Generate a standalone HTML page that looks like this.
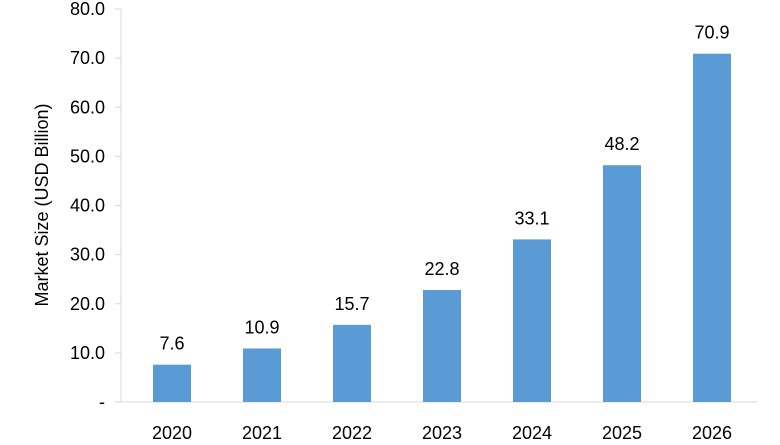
<!DOCTYPE html>
<html><head><meta charset="utf-8"><style>
body{margin:0;background:#fff;width:780px;height:440px;overflow:hidden}
text{font-family:"Liberation Sans",Arial,sans-serif;fill:#000}
</style></head><body>
<svg id="chart" width="780" height="440" xmlns="http://www.w3.org/2000/svg"></svg>
<script>
const categories=["2020","2021","2022","2023","2024","2025","2026"];
const values=[7.6,10.9,15.7,22.8,33.1,48.2,70.9];
const yTicks=[0,10,20,30,40,50,60,70,80];
const yTickLabels=["-","10.0","20.0","30.0","40.0","50.0","60.0","70.0","80.0"];
const svg=document.getElementById('chart');
const NS="http://www.w3.org/2000/svg";
const x0=121,x1=757,y0=402,y1=9,yMax=80;
const step=90,barW=38,firstCenter=172;
function y(v){return y0-(v/yMax)*(y0-y1);}
function xc(i){return firstCenter+step*i;}
function mk(tag,attrs){const e=document.createElementNS(NS,tag);for(const k in attrs)e.setAttribute(k,attrs[k]);svg.appendChild(e);return e;}
const yAxis=mk('line',{x1:x0,y1:y1,x2:x0,y2:y0,stroke:'#d9d9d9','stroke-width':1});


yTicks.forEach((t,i)=>{
 const tk=mk('line',{x1:x0-6,y1:y(t),x2:x0,y2:y(t),stroke:'#d9d9d9','stroke-width':1});
 
 
 const lb=mk('text',{x:x0-16,y:y(t)+6,'text-anchor':'end','font-size':18});
 lb.textContent=yTickLabels[i];
 
 
});
const xAxis=mk('line',{x1:x0,y1:y0,x2:x1,y2:y0,stroke:'#d9d9d9','stroke-width':1});


categories.forEach((c,i)=>{
 const v=values[i];
 const b=mk('rect',{x:xc(i)-barW/2,y:y(v),width:barW,height:y0-y(v),fill:'#5b9bd5'});
 
 
 const vl=mk('text',{x:xc(i),y:y(v)-15,'text-anchor':'middle','font-size':18});
 vl.textContent=v.toFixed(1);
 
 
 const cl=mk('text',{x:xc(i),y:y0+37,'text-anchor':'middle','font-size':18});
 cl.textContent=c;
 
 
});
const yt=mk('text',{x:0,y:0,'text-anchor':'middle','font-size':18,transform:'translate(48,205) rotate(-90)'});
yt.textContent="Market Size (USD Billion)";


</script>
</body></html>
